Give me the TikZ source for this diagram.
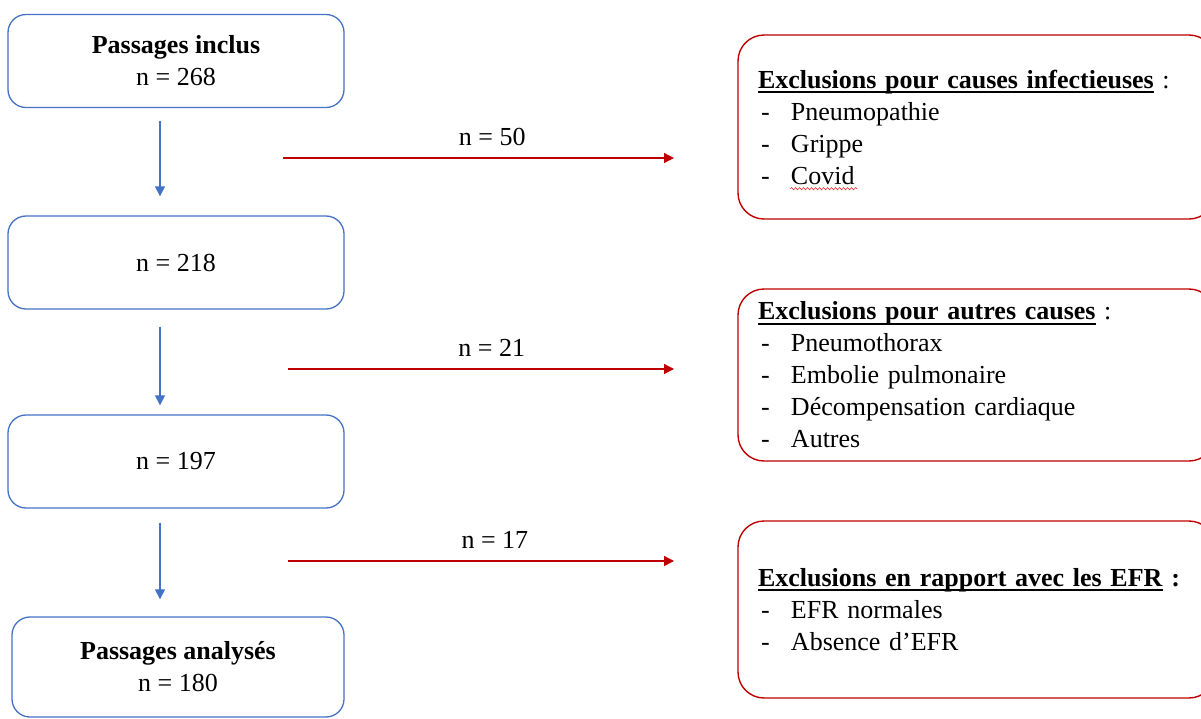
\documentclass[tikz,border=0pt]{standalone}
\usepackage{fontspec}
\setmainfont{Liberation Serif}
\usepackage{tikz}
\usetikzlibrary{arrows.meta,positioning,decorations.pathmorphing}

\definecolor{flowblue}{HTML}{4472C4}
\definecolor{flowred}{HTML}{C00000}

\newcommand{\souligne}[1]{{\setbox0\hbox{#1}\rlap{\rule[-5pt]{\wd0}{2pt}}\box0}}
\newcommand{\puce}[1]{\hspace*{3pt}\makebox[30pt][l]{-}#1}

\begin{document}
\begin{tikzpicture}[x=1pt,y=-1pt,font=\fontsize{26}{32}\selectfont,
  stage/.style={draw=flowblue,line width=1.3pt,rounded corners=18pt,minimum width=336pt,minimum height=93pt,align=center,inner sep=0pt},
  excl/.style={draw=flowred,line width=1.4pt,rounded corners=26pt,text width=437pt,inner xsep=20pt,inner ysep=0pt,align=left},
  down/.style={flowblue,line width=1.1pt,-{Triangle[length=10pt,width=10pt]}},
  exclarrow/.style={flowred,line width=1.3pt,-{Triangle[length=10pt,width=10pt]}},
  count/.style={above=12pt,inner sep=0pt,text=black}]

  \useasboundingbox (0,0) rectangle (1201,718);

  % left column
  \node[stage] (b1) at (176,61) {\textbf{Passages inclus}\\n = 268};
  \node[stage] (b2) at (176,262.5) {n = 218};
  \node[stage] (b3) at (176,461.5) {n = 197};
  \node[stage,minimum width=332pt,minimum height=100pt] (b4) at (178,667) {\textbf{Passages analysés}\\n = 180};

  % right column
  \node[excl,minimum height=184pt] (e1) at (976.5,127) {\souligne{\textbf{Exclusions pour causes infectieuses}} :\\
    \puce{Pneumopathie}\\ \puce{Grippe}\\ \puce{Covid}};
  \node[excl,minimum height=172pt] (e2) at (976.5,375) {\souligne{\textbf{Exclusions pour autres causes}} :\\
    \puce{Pneumothorax}\\ \puce{Embolie pulmonaire}\\ \puce{Décompensation cardiaque}\\ \puce{Autres}};
  \node[excl,minimum height=177pt] (e3) at (976.5,609.5) {\souligne{\textbf{Exclusions en rapport avec les EFR}} \textbf{:}\\
    \puce{EFR normales}\\ \puce{Absence d’EFR}};

  % spelling mark under Covid
  \draw[red!80,line width=0.6pt,decorate,decoration={snake,amplitude=1.2pt,segment length=4pt}]
    ([xshift=53pt,yshift=31pt]e1.south west) -- ([xshift=120pt,yshift=31pt]e1.south west);

  % flow arrows
  \draw[down,shorten <=13pt,shorten >=19pt] ([xshift=-16pt]b1.south) -- ([xshift=-16pt]b2.north);
  \draw[down,shorten <=17pt,shorten >=9pt] ([xshift=-16pt]b2.south) -- ([xshift=-16pt]b3.north);
  \draw[down,shorten <=14pt,shorten >=17pt] ([xshift=-16pt]b3.south) -- ([xshift=-18pt]b4.north);

  \coordinate (x1a) at (283,158);
  \coordinate (x1b) at (674,158);
  \coordinate (x2a) at (288,369);
  \coordinate (x2b) at (674,369);
  \coordinate (x3a) at (288,561);
  \coordinate (x3b) at (674,561);

  \draw[exclarrow] (x1a) -- node[count,pos=.535] (c1) {n = 50} (x1b);
  \draw[exclarrow] (x2a) -- node[count,pos=.528] (c2) {n = 21} (x2b);
  \draw[exclarrow] (x3a) -- node[count,pos=.536] (c3) {n = 17} (x3b);

\end{tikzpicture}
\end{document}
